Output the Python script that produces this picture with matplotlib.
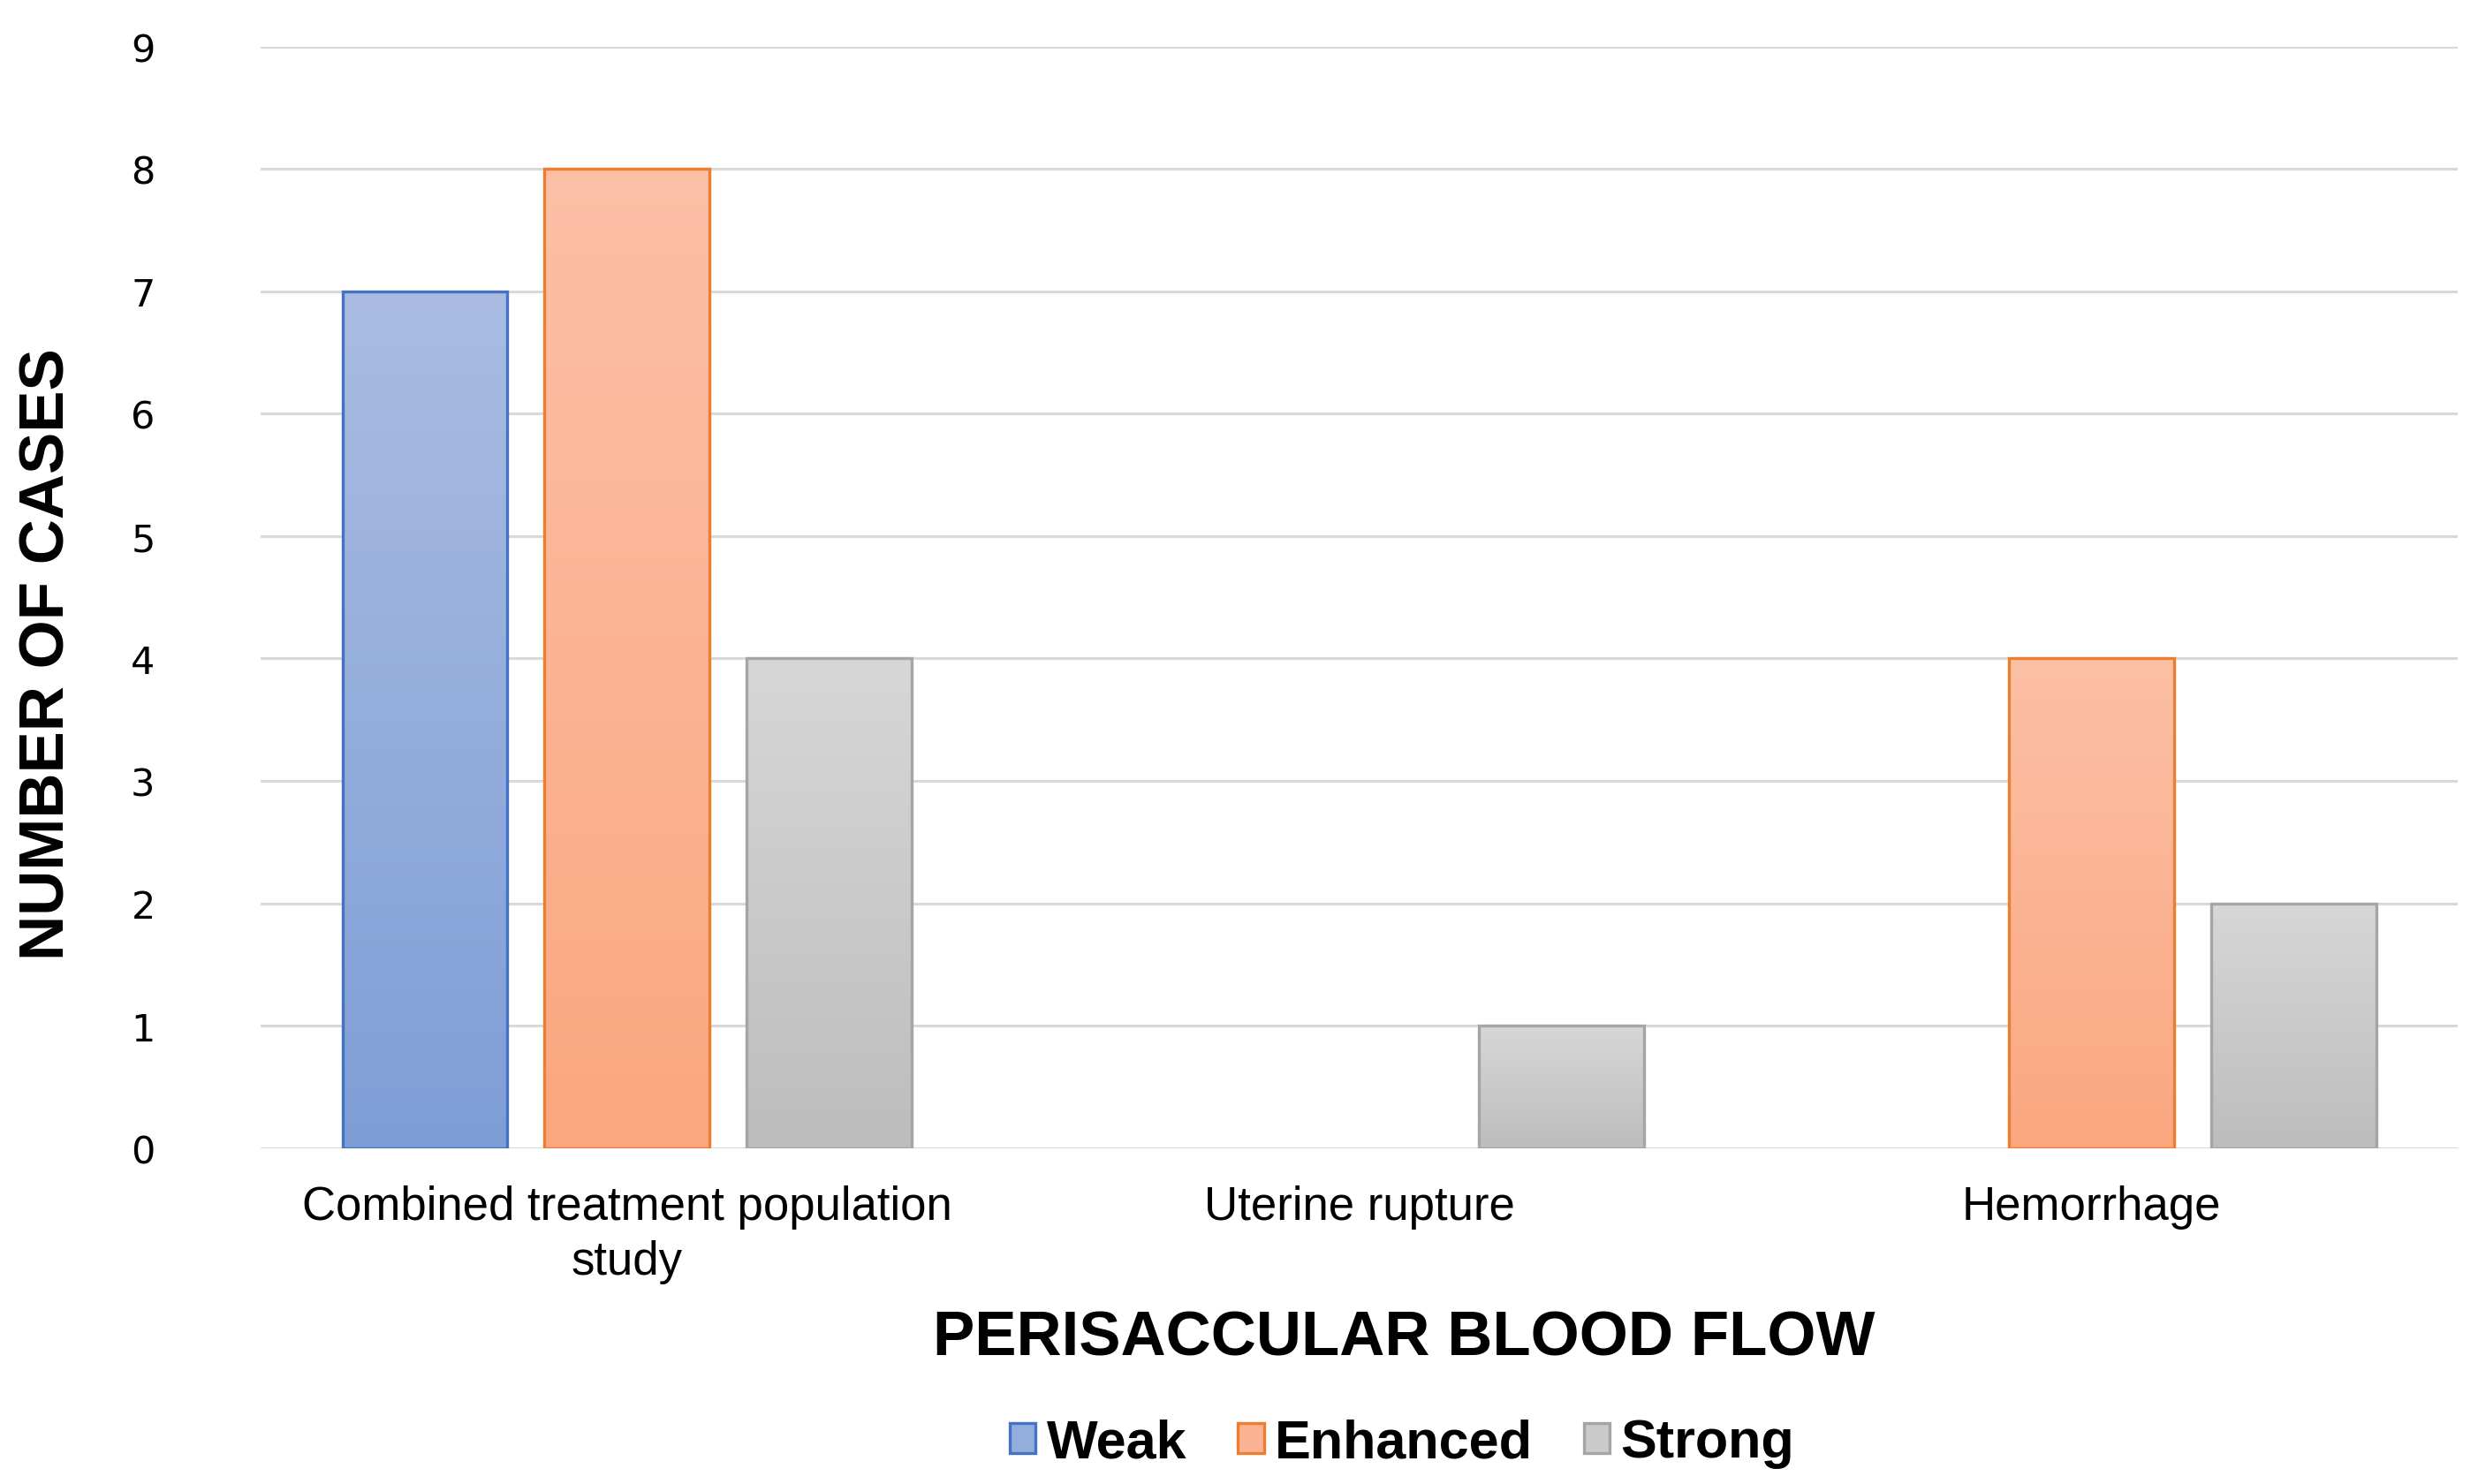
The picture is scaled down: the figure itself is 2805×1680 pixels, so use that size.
import matplotlib
matplotlib.use('Agg')
import matplotlib.pyplot as plt
import numpy as np
from matplotlib.patches import Patch
from matplotlib.colors import to_rgb

categories = ["Combined treatment population\nstudy", "Uterine rupture", "Hemorrhage"]
series = ["Weak", "Enhanced", "Strong"]
weak = [7, 0, 0]
enhanced = [8, 0, 4]
strong = [4, 1, 2]
yticks = list(range(0, 10))
ylabel = "NUMBER OF CASES"
xlabel = "PERISACCULAR BLOOD FLOW"

values = [weak, enhanced, strong]
top_colors = ["#aabce2", "#fcc0a6", "#d7d7d7"]
bot_colors = ["#7f9ed6", "#fba780", "#bdbdbd"]
edge_colors = ["#4472c4", "#ed7d31", "#a5a5a5"]

plt.rcParams['font.family'] = ['Liberation Sans', 'DejaVu Sans']

fig = plt.figure(figsize=(28.05, 16.81), dpi=100)
ax = fig.add_axes([0.1052, 0.2263, 0.8866, 0.7417])

x = np.arange(len(categories))
width = 0.225
step = 0.276
offsets = [-step, 0, step]

for si, vals in enumerate(values):
    c0 = np.array(to_rgb(top_colors[si]))
    c1 = np.array(to_rgb(bot_colors[si]))
    grad = np.linspace(0, 1, 256)[:, None]
    img = (c0[None, None, :] * (1 - grad[:, :, None]) + c1[None, None, :] * grad[:, :, None])
    img = np.repeat(img, 2, axis=1)
    for ci, v in enumerate(vals):
        if v <= 0:
            continue
        bars = ax.bar(x[ci] + offsets[si], v, width, facecolor='none',
                      edgecolor=edge_colors[si], linewidth=2.4, zorder=4)
        p = bars[0]
        x0 = p.get_x()
        x1 = x0 + p.get_width()
        im = ax.imshow(img, extent=[x0, x1, 0, v], aspect='auto', zorder=3,
                       interpolation='bilinear')
        im.set_clip_path(p)

ax.set_xlim(-0.5, 2.5)
ax.set_ylim(0, 9)
ax.set_yticks(yticks)
ax.set_yticklabels([str(t) for t in yticks], fontfamily='DejaVu Sans', fontsize=31)
ax.set_xticks(x)
ax.set_xticklabels(categories, fontsize=38, linespacing=1.3)
ax.tick_params(axis='y', length=0, pad=86)
ax.tick_params(axis='x', length=0, pad=30)
ax.yaxis.grid(True, color='#d9d9d9', linewidth=2.2, zorder=0)
ax.set_axisbelow(True)
for s in ax.spines.values():
    s.set_visible(False)

fig.text(55 / 2805, 1 - 741 / 1681, ylabel, rotation=90, ha='center', va='center',
         fontsize=51, fontweight='bold')
fig.text(1589 / 2805, 1 - 1517 / 1681, xlabel, ha='center', va='center',
         fontsize=51, fontweight='bold')

handles = [Patch(facecolor=tuple((np.array(to_rgb(top_colors[i])) + np.array(to_rgb(bot_colors[i]))) / 2),
                 edgecolor=edge_colors[i], linewidth=2.4) for i in range(3)]
leg = fig.legend(handles, series, loc='center', bbox_to_anchor=(1587 / 2805, 1 - 1635 / 1681),
                 ncol=3, frameon=False, prop={'weight': 'bold', 'size': 44},
                 handlelength=0.48, handleheight=0.48, handletextpad=0.2,
                 columnspacing=0.95, borderaxespad=0)

fig.savefig('out.png', dpi=100, facecolor='white')
